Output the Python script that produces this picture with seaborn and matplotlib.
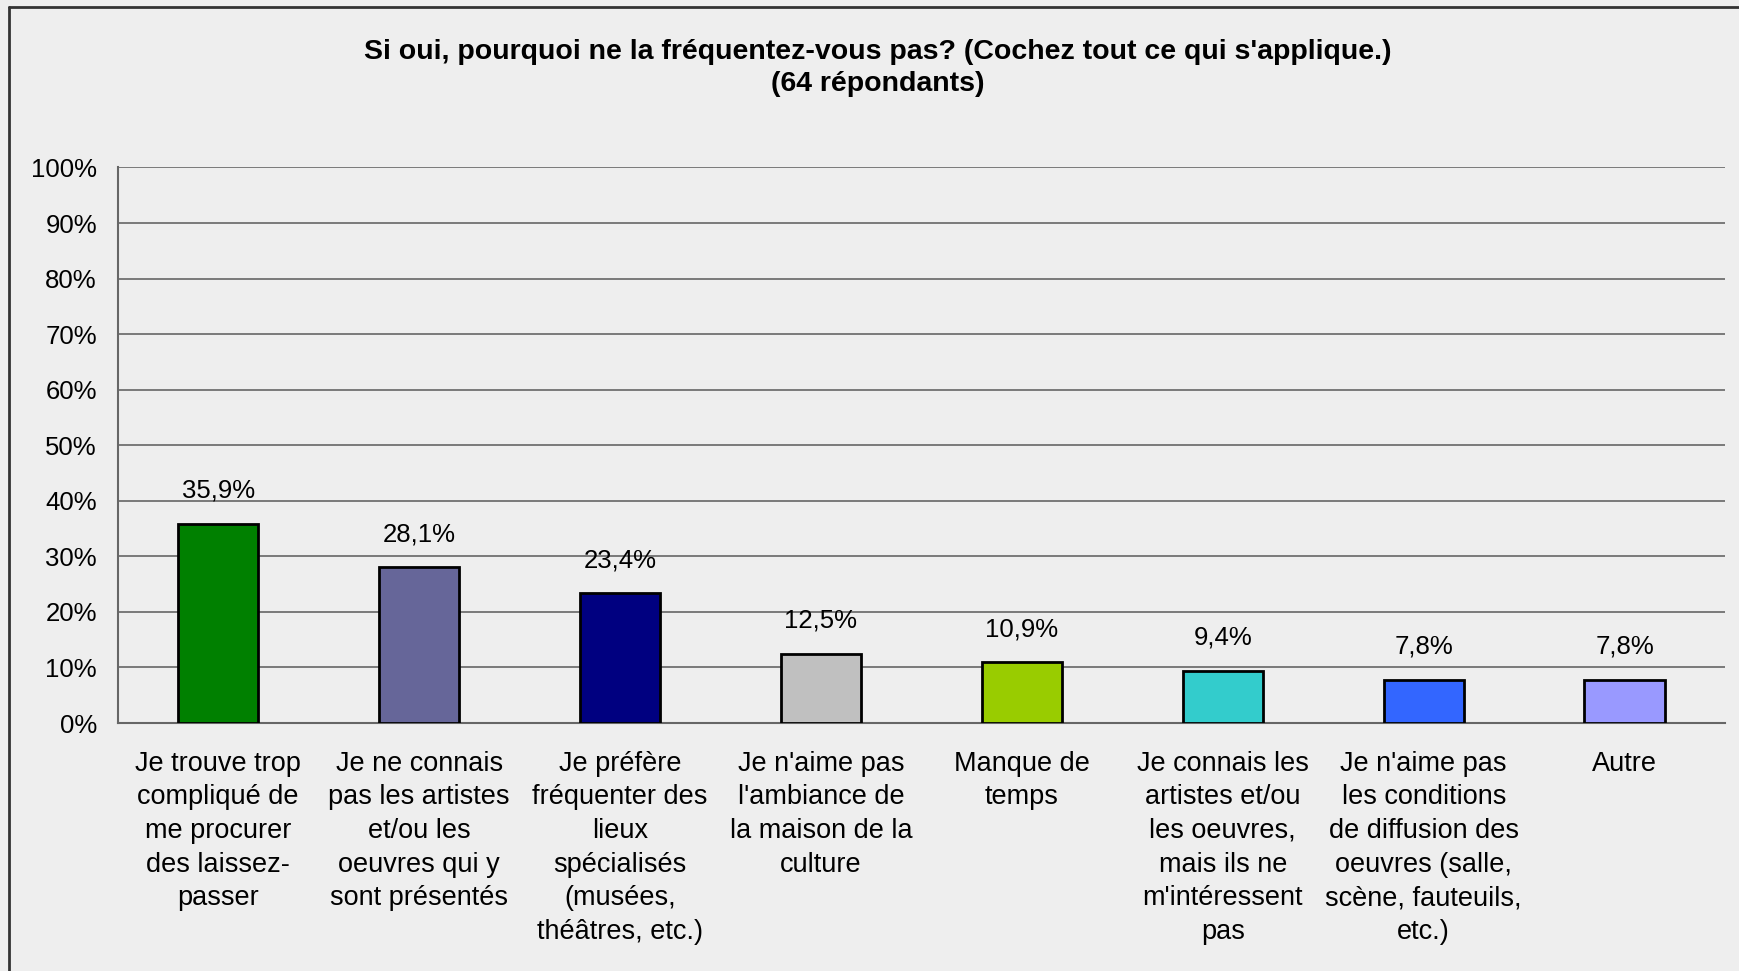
import matplotlib
matplotlib.use("Agg")
import matplotlib.pyplot as plt
import seaborn as sns
import pandas as pd
from matplotlib.lines import Line2D

categories = [
    "Je trouve trop\ncompliqué de\nme procurer\ndes laissez-\npasser",
    "Je ne connais\npas les artistes\net/ou les\noeuvres qui y\nsont présentés",
    "Je préfère\nfréquenter des\nlieux\nspécialisés\n(musées,\nthéâtres, etc.)",
    "Je n'aime pas\nl'ambiance de\nla maison de la\nculture",
    "Manque de\ntemps",
    "Je connais les\nartistes et/ou\nles oeuvres,\nmais ils ne\nm'intéressent\npas",
    "Je n'aime pas\nles conditions\nde diffusion des\noeuvres (salle,\nscène, fauteuils,\netc.)",
    "Autre",
]
values = [35.9, 28.1, 23.4, 12.5, 10.9, 9.4, 7.8, 7.8]
colors = ["#008000", "#666699", "#000080", "#C0C0C0", "#99CC00", "#33CCCC", "#3366FF", "#9999FF"]
yticks = [0, 10, 20, 30, 40, 50, 60, 70, 80, 90, 100]

title = "Si oui, pourquoi ne la fréquentez-vous pas? (Cochez tout ce qui s'applique.)\n(64 répondants)"

sns.set_style("white")
plt.rcParams["font.family"] = ["Liberation Sans", "DejaVu Sans"]
plt.rcParams["text.color"] = "black"
plt.rcParams["xtick.labelcolor"] = "black"
plt.rcParams["ytick.labelcolor"] = "black"

bg = "#EEEEEE"
fig = plt.figure(figsize=(17.39, 9.71), dpi=100, facecolor=bg)
ax = fig.add_axes([0.0677, 0.2554, 0.9243, 0.5721])
ax.set_facecolor(bg)

df = pd.DataFrame({"cat": categories, "val": values})
sns.barplot(data=df, x="cat", y="val", hue="cat", palette=colors, legend=False,
            saturation=1, width=0.4, edgecolor="black", linewidth=2, ax=ax, zorder=3)

ax.set_ylim(0, 100)
ax.set_xlim(-0.5, len(categories) - 0.5)
ax.set_yticks(yticks)
ax.set_yticklabels([f"{v}%" for v in yticks], fontsize=18.5, color="black")
ax.yaxis.grid(True, color="#666666", linewidth=1.2, zorder=0)
ax.set_axisbelow(True)

# category labels without tick marks, boundary ticks as minor
ax.set_xticks(range(len(categories)))
ax.set_xticklabels(categories, fontsize=19.5, linespacing=1.38, va="top", color="black")
ax.tick_params(axis="x", which="major", length=0, pad=20)
ax.set_xticks([i - 0.5 for i in range(len(categories) + 1)], minor=True)
ax.tick_params(axis="x", which="minor", length=7, width=1.2, color="#666666", direction="out")
ax.tick_params(axis="y", length=7, width=1.2, color="#666666", direction="out", pad=8)
ax.set_xlabel("")
ax.set_ylabel("")

for s in ["top", "right"]:
    ax.spines[s].set_visible(False)
for s in ["left", "bottom"]:
    ax.spines[s].set_color("#666666")
    ax.spines[s].set_linewidth(1.5)

labels = [f"{v:.1f}%".replace(".", ",") for v in values]
for cont in ax.containers:
    for bar in cont:
        i = int(round(bar.get_x() + bar.get_width() / 2))
        ax.annotate(labels[i], (bar.get_x() + bar.get_width() / 2, bar.get_height()),
                    xytext=(0, 15), textcoords="offset points",
                    ha="center", va="bottom", fontsize=18.5, color="black")

fig.suptitle(title, y=0.96, fontsize=20.5, fontweight="bold", linespacing=1.3, x=0.505, color="black")

# chart frame (left and top edges visible)
fig.add_artist(Line2D([9 / 1739, 9 / 1739], [0, 1 - 7 / 971], transform=fig.transFigure, color="#333333", linewidth=2))
fig.add_artist(Line2D([9 / 1739, 1], [1 - 7 / 971, 1 - 7 / 971], transform=fig.transFigure, color="#333333", linewidth=2))

fig.savefig("out.png", dpi=100, facecolor=bg)
